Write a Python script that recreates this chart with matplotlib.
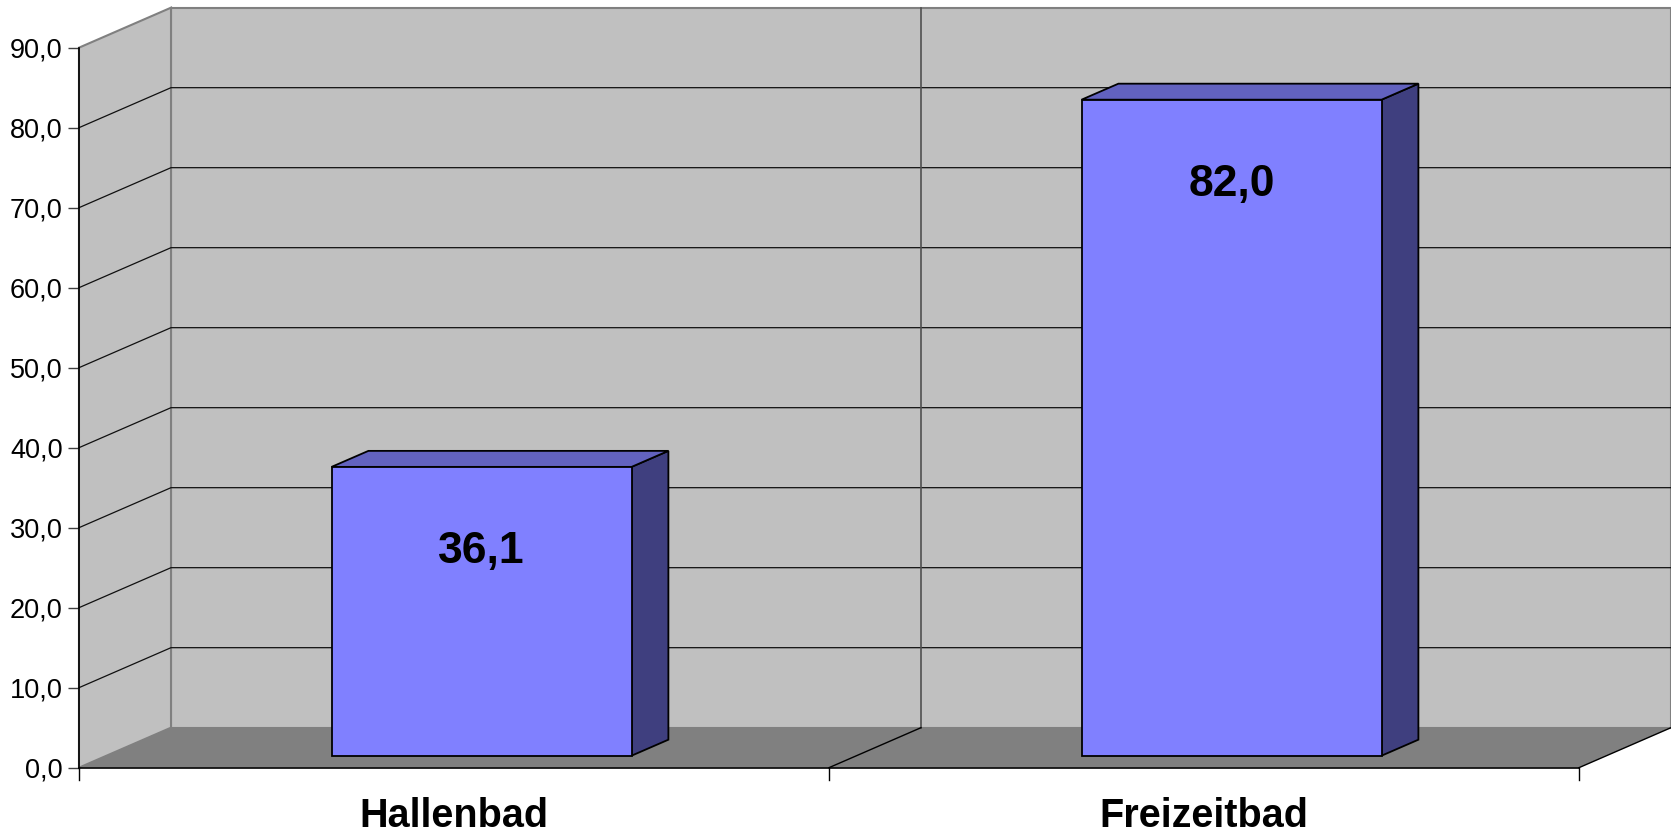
import matplotlib.pyplot as plt
from matplotlib.patches import Polygon

plt.rcParams['font.family'] = ['Liberation Sans', 'DejaVu Sans']

# daten
kategorien = ['Hallenbad', 'Freizeitbad']
werte = [36.1, 82.0]
y_ticks = [0, 10, 20, 30, 40, 50, 60, 70, 80, 90]

# "3D" tiefe in datenkoordinaten
dx = 0.1227   # verschiebung nach rechts fuer volle tiefe
dy = 5.0      # verschiebung nach oben fuer volle tiefe
z0, z1 = 0.3, 0.7   # vorder-/rueckseite der saeulen
breite = 0.4
ymax = 90

fig = plt.figure(figsize=(16.71, 8.32), dpi=100)
ax = fig.add_axes([0, 0, 1, 1])
ax.set_xlim(-0.6053, 1.6227)
ax.set_ylim(-8.04, 95.96)
ax.set_facecolor('white')

x_l, x_r = -0.5, len(kategorien) - 0.5

def poly(pts, fc, ec='none', lw=0.0, z=1):
    ax.add_patch(Polygon(pts, closed=True, facecolor=fc, edgecolor=ec,
                         linewidth=lw, zorder=z, joinstyle='miter'))

# rueckwand, seitenwand, boden
poly([(x_l+dx, dy), (x_r+dx, dy), (x_r+dx, ymax+dy), (x_l+dx, ymax+dy)],
     '#c0c0c0', '#808080', 1.5)
poly([(x_l, 0), (x_l+dx, dy), (x_l+dx, ymax+dy), (x_l, ymax)],
     '#c0c0c0', '#808080', 1.5)
poly([(x_l, 0), (x_r, 0), (x_r+dx, dy), (x_l+dx, dy)], '#808080')

# gitterlinien
for t in y_ticks[1:-1]:
    ax.plot([x_l, x_l+dx, x_r+dx], [t, t+dy, t+dy], color='#101010',
            lw=0.9, zorder=2)

# trennlinien zwischen den kategorien
for i in range(1, len(kategorien)):
    xs = i - 0.5
    ax.plot([xs+dx, xs+dx], [dy, ymax+dy], color='#505050', lw=1.2, zorder=2)
    ax.plot([xs, xs+dx], [0, dy], color='black', lw=1.0, zorder=2)
ax.plot([x_r, x_r+dx], [0, dy], color='black', lw=1.0, zorder=2)
ax.plot([x_l, x_r], [0, 0], color='black', lw=1.2, zorder=3)

# saeulen
for i, v in enumerate(werte):
    x0 = i - breite/2 + z0*dx
    x1 = i + breite/2 + z0*dx
    yb = z0*dy
    yt = yb + v
    ddx = (z1-z0)*dx
    ddy = (z1-z0)*dy
    poly([(x1, yb), (x1+ddx, yb+ddy), (x1+ddx, yt+ddy), (x1, yt)],
         '#3f3f7f', 'black', 1.3, 4)
    poly([(x0, yt), (x1, yt), (x1+ddx, yt+ddy), (x0+ddx, yt+ddy)],
         '#6262bf', 'black', 1.3, 4)
    poly([(x0, yb), (x1, yb), (x1, yt), (x0, yt)],
         '#8080ff', 'black', 1.3, 5)
    ax.text((x0+x1)/2, yt-12, f'{v:.1f}'.replace('.', ','), ha='center',
            va='baseline', fontsize=32, fontweight='bold', zorder=6)

# kategorien
for i, k in enumerate(kategorien):
    ax.text(i, -7.375, k, ha='center', va='baseline', fontsize=28.5,
            fontweight='bold')

# achsen
for s in ['top', 'right', 'bottom']:
    ax.spines[s].set_visible(False)
ax.spines['left'].set_position(('data', x_l))
ax.spines['left'].set_bounds(0, ymax)
ax.spines['left'].set_linewidth(1.2)
ax.spines['left'].set_zorder(3)
ax.set_yticks(y_ticks)
ax.set_yticklabels([f'{t:.1f}'.replace('.', ',') for t in y_ticks])
ax.tick_params(axis='y', length=8, width=1.0, pad=3.6, labelsize=19.5,
               color='#404040')
ax.set_xticks([])
for xt in [x_l, 0.5, x_r]:
    ax.plot([xt, xt], [0, -1.5], color='black', lw=1.0, clip_on=False)

fig.savefig('out.png', dpi=100)
